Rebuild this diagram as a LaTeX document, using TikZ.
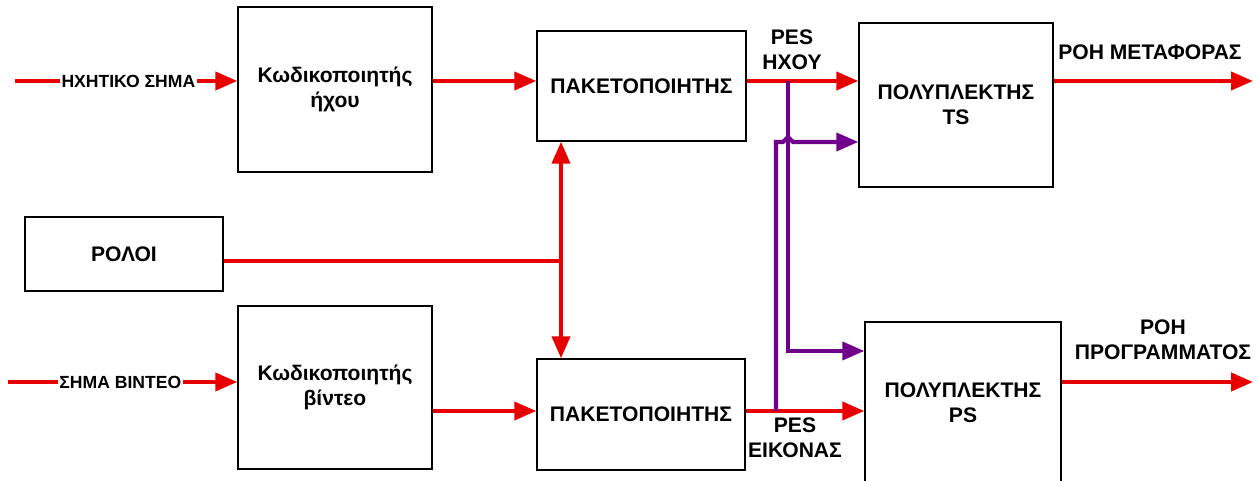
\documentclass[tikz,border=0pt]{standalone}
\usepackage{fontspec}
\setmainfont{Liberation Sans}
\usetikzlibrary{arrows.meta}
\definecolor{sigred}{RGB}{232,0,0}
\definecolor{pespurple}{RGB}{112,0,140}

\begin{document}
\begin{tikzpicture}[x=1cm,y=1cm,
  box/.style={draw, line width=0.8pt, align=center, inner sep=0pt, font=\fontsize{12}{14}\selectfont\bfseries},
  sig/.style={draw=sigred, line width=2.3pt, -{Triangle[length=0.44cm,width=0.36cm]}},
  pes/.style={draw=pespurple, line width=2.3pt, -{Triangle[length=0.44cm,width=0.36cm]}},
  lbl/.style={align=center, font=\fontsize{12}{14}\selectfont\bfseries},
  inlbl/.style={fill=white, inner sep=1pt, font=\fontsize{10}{12}\selectfont\bfseries}]
\useasboundingbox (0,0) rectangle (25.16,-9.62);
\node[box, minimum width=3.88cm, minimum height=3.3cm] (aenc) at (6.70,-1.79) {Κωδικοποιητής\\ήχου};
\node[box, minimum width=4.18cm, minimum height=2.2cm] (pack1) at (12.83,-1.72) {ΠΑΚΕΤΟΠΟΙΗΤΗΣ};
\node[box, minimum width=3.88cm, minimum height=3.28cm] (muxts) at (19.12,-2.10) {ΠΟΛΥΠΛΕΚΤΗΣ\\TS};
\node[box, minimum width=3.96cm, minimum height=1.48cm] (clock) at (2.48,-5.08) {ΡΟΛΟΙ};
\node[box, minimum width=3.88cm, minimum height=3.26cm] (venc) at (6.70,-7.75) {Κωδικοποιητής\\βίντεο};
\node[box, minimum width=4.16cm, minimum height=2.22cm] (pack2) at (12.82,-8.29) {ΠΑΚΕΤΟΠΟΙΗΤΗΣ};
\node[box, minimum width=3.92cm, minimum height=3.24cm] (muxps) at (19.26,-8.06) {ΠΟΛΥΠΛΕΚΤΗΣ\\PS};
% levels of the lines
\coordinate (ya) at (0.30,-1.62);
\coordinate (vin) at (0.16,-7.64);
\coordinate (yv) at (0,-8.22);
\coordinate (clk) at (11.22,-5.22);
\coordinate (pa) at (15.76,-1.62);
\coordinate (pv) at (15.52,-8.22);
\coordinate (yts) at (0,-2.84);
\coordinate (yps) at (0,-7.02);
\coordinate (outts) at (25.06,-1.62);
\coordinate (outps) at (25.06,-7.64);
% inputs and streams
\draw[sig] (ya) -- node[inlbl, pos=.51] {ΗΧΗΤΙΚΟ ΣΗΜΑ} (ya -| aenc.west);
\draw[sig] (vin) -- node[inlbl, pos=.49] {ΣΗΜΑ ΒΙΝΤΕΟ} (vin -| venc.west);
\draw[sig] (ya -| aenc.east) -- (ya -| pack1.west);
\draw[sig] (yv -| venc.east) -- (yv -| pack2.west);
\draw[sig] (ya -| pack1.east) -- (ya -| muxts.west);
\draw[sig] (yv -| pack2.east) -- (yv -| muxps.west);
\draw[sig] (ya -| muxts.east) -- (outts);
\draw[sig] (vin -| muxps.east) -- (outps);
% clock
\draw[sig, -] (clock.east |- clk) -- (clk);
\draw[sig, {Triangle[length=0.44cm,width=0.36cm]}-{Triangle[length=0.44cm,width=0.36cm]}] (clk |- pack1.south) -- (clk |- pack2.north);
% PES to the other multiplexer
\draw[pes] (pa) -- (pa |- yps) -- (yps -| muxps.west);
\draw[pes] (pv) -- (pv |- yts) -- ++(0.14,0) -- ++(0.1,0.1) -- ++(0.1,-0.1) -- (yts -| muxts.west);
% labels
\node[lbl] (pesa) at (15.84,-1.0) {PES\\ΗΧΟΥ};
\node[lbl] (pesv) at (15.9,-8.75) {PES\\ΕΙΚΟΝΑΣ};
\node[lbl] (tslbl) at (23.0,-1.04) {ΡΟΗ ΜΕΤΑΦΟΡΑΣ};
\node[lbl] (pslbl) at (23.26,-6.80) {ΡΟΗ\\ΠΡΟΓΡΑΜΜΑΤΟΣ};
\end{tikzpicture}
\end{document}
